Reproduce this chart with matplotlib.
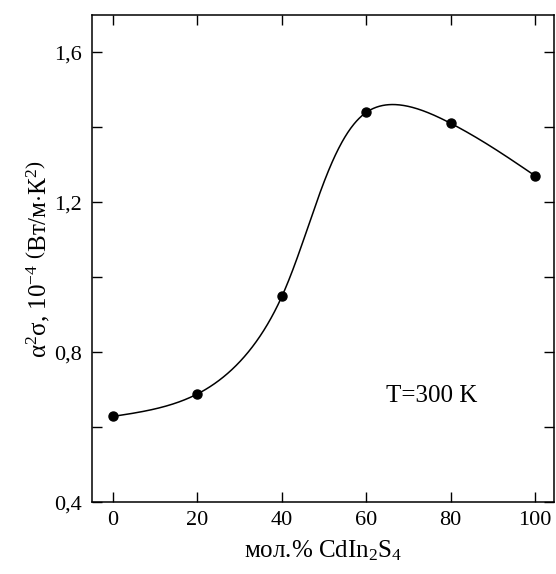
import numpy as np
import matplotlib
matplotlib.use('Agg')
import matplotlib.pyplot as plt
from matplotlib.ticker import MultipleLocator

# dados
mol_pct = [0, 20, 40, 60, 80, 100]
power_factor = [0.629, 0.689, 0.949, 1.440, 1.411, 1.271]
x_ticks = [0, 20, 40, 60, 80, 100]
y_ticks = [0.4, 0.8, 1.2, 1.6]
y_tick_labels = ['0,4', '0,8', '1,2', '1,6']

plt.rcParams['font.family'] = ['Liberation Serif', 'DejaVu Serif']
plt.rcParams['mathtext.fontset'] = 'custom'
plt.rcParams['mathtext.rm'] = 'Liberation Serif'
plt.rcParams['mathtext.it'] = 'Liberation Serif:italic'
plt.rcParams['font.size'] = 16


def spline(t, y, ts):
    # spline cúbica natural via segundas derivadas M
    t = np.asarray(t, float)
    y = np.asarray(y, float)
    n = len(t)
    h = np.diff(t)
    A = np.zeros((n, n))
    b = np.zeros(n)
    A[0, 0] = A[-1, -1] = 1
    for i in range(1, n - 1):
        A[i, i - 1] = h[i - 1]
        A[i, i] = 2 * (h[i - 1] + h[i])
        A[i, i + 1] = h[i]
        b[i] = 6 * ((y[i + 1] - y[i]) / h[i] - (y[i] - y[i - 1]) / h[i - 1])
    M = np.linalg.solve(A, b)
    out = np.empty_like(ts)
    for k, tt in enumerate(ts):
        i = min(max(np.searchsorted(t, tt, side='right') - 1, 0), n - 2)
        a = (t[i + 1] - tt) / h[i]
        c = (tt - t[i]) / h[i]
        out[k] = (a * y[i] + c * y[i + 1]
                  + ((a ** 3 - a) * M[i] + (c ** 3 - c) * M[i + 1]) * h[i] ** 2 / 6)
    return out


def curve(x, y, sx, sy, alpha=0.5, npts=600):
    # spline paramétrica centrípeta (escala de tela)
    x = np.asarray(x, float)
    y = np.asarray(y, float)
    seg = np.hypot(np.diff(x) * sx, np.diff(y) * sy) ** alpha
    t = np.concatenate([[0], np.cumsum(seg)])
    ts = np.linspace(0, t[-1], npts)
    return spline(t, x, ts), spline(t, y, ts)


fig = plt.figure(figsize=(5.56, 5.74), dpi=100)
ax = fig.add_axes([0.1655, 0.125, 0.8309, 0.849])

cx, cy = curve(mol_pct, power_factor, 4.225, 373.0)
ax.plot(cx, cy, color='black', lw=1.1)
ax.plot(mol_pct, power_factor, 'o', color='black', ms=6.5)

ax.set_xlim(-5, 104.5)
ax.set_ylim(0.4, 1.7)
ax.set_xticks(x_ticks)
ax.set_yticks(y_ticks)
ax.set_yticklabels(y_tick_labels)
ax.yaxis.set_minor_locator(MultipleLocator(0.2))
ax.tick_params(which='both', direction='in', top=True, right=True, length=7, width=1)
ax.tick_params(axis='x', pad=6)
ax.tick_params(axis='y', pad=7)
for s in ax.spines.values():
    s.set_linewidth(1.1)

ax.set_xlabel('мол.% CdIn$_2$S$_4$', fontsize=18, labelpad=6)
ax.set_ylabel(r'α$^2$σ, 10$^{-4}$ $\left(\mathrm{Вт/м{\cdot}К}^2\right)$', fontsize=18, labelpad=2)
ax.text(75.5, 0.684, 'T=300 K', ha='center', va='center', fontsize=18)

fig.savefig('out.png', dpi=100)
